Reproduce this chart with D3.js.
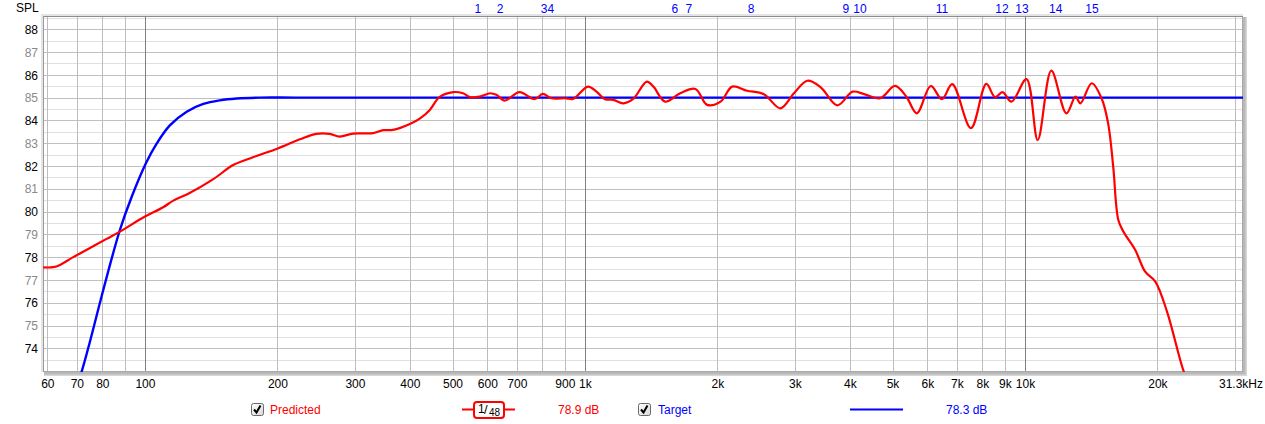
<!DOCTYPE html>
<html><head><meta charset="utf-8">
<script src="https://cdn.jsdelivr.net/npm/d3@7"></script>
<style>
html,body{margin:0;padding:0;background:#fff;}
svg{display:block;font-family:"Liberation Sans",Arial,sans-serif;}
</style></head>
<body>
<svg id="chart" width="1265" height="424"></svg>
<script>
// ---- data ----
const xTickValues = [60,70,80,90,100,200,300,400,500,600,700,800,900,1000,2000,3000,4000,5000,6000,7000,8000,9000,10000,20000,30000];
const xTickLabels = ["60","70","80","","100","200","300","400","500","600","700","","900","1k","2k","3k","4k","5k","6k","7k","8k","9k","10k","20k",""];
const yTickValues = [74,75,76,77,78,79,80,81,82,83,84,85,86,87,88];
const markerFreqs = [571,641,807,837,1601,1723,2384,3919,4217,6477,8868,9846,11750,14200];
const markerLabels = ["1","2","3","4","6","7","8","9","10","11","12","13","14","15"];

const predictedFreq = [58.7,61.9,64.1,68.7,75,81.8,87.7,100,110,116,126,143,159,176,201,225,245,263,277,297,330,348,366,400,422,444,467,502,528,548,576,609,629,657,710,768,802,838,907,940,1016,1062,1110,1160,1222,1287,1382,1431,1521,1646,1783,1895,2033,2161,2337,2550,2782,2985,3202,3434,3749,4058,4312,4689,5065,5376,5677,6107,6476,6834,7537,8169,8551,8894,9319,10080,10690,11480,12420,13030,13370,14180,14930,15450,15870,16300,16740,17800,18760,19780,21030,22960,23500];
const predictedSPL = [77.55,77.56,77.66,78.0,78.4,78.8,79.12,79.78,80.19,80.48,80.8,81.42,82.05,82.38,82.78,83.17,83.41,83.41,83.29,83.42,83.44,83.57,83.58,83.84,84.09,84.46,85.02,85.24,85.19,85.02,85.04,85.19,85.12,84.87,85.24,84.93,85.16,84.97,84.97,84.94,85.48,85.26,84.93,84.9,84.75,84.94,85.7,85.48,84.82,85.19,85.38,84.68,84.82,85.48,85.3,85.15,84.53,85.19,85.74,85.45,84.66,85.26,85.15,84.97,85.51,85.04,84.31,85.51,84.93,85.59,83.66,85.6,85.02,85.24,84.82,85.81,83.14,86.18,84.31,85.04,84.75,85.63,84.97,83.88,81.97,79.63,79.12,78.32,77.36,76.93,75.61,72.98,72.6];

const targetFreq = [68,70,71.8,75,80.4,87.7,93.3,100.5,106.3,113.9,124.4,135.7,148,161.6,182.5,220,400,1000,10000,31300];
const targetSPL = [71.7,72.4,72.98,74.3,76.56,79.19,80.65,82.12,82.98,83.78,84.38,84.72,84.88,84.96,85.0,85.0,85.0,85.0,85.0,85.0];

const legendItems = [
  {name:"Predicted", value:"78.9 dB", color:"#ff0000"},
  {name:"Target", value:"78.3 dB", color:"#0000ff"}
];

// ---- layout ----
const svg = d3.select("#chart");
const L = 43, R = 1243, T = 16, B = 372;
const x = d3.scaleLog().domain([58.65, 31300]).range([L, R]);
const y = d3.scaleLinear().domain([72.96, 88.58]).range([B, T]);

const defs = svg.append("defs");
defs.append("clipPath").attr("id","plotclip").append("rect")
  .attr("x",L).attr("y",T).attr("width",R-L).attr("height",B-T);
const cg = defs.append("linearGradient").attr("id","cb").attr("x1",0).attr("y1",0).attr("x2",1).attr("y2",1);
cg.append("stop").attr("offset","0%").attr("stop-color","#ffffff");
cg.append("stop").attr("offset","100%").attr("stop-color","#d8d8d8");

// frame shadow
svg.append("rect").attr("x",L+1).attr("y",T+1).attr("width",R-L+3).attr("height",B-T+3).attr("fill","#d6d6d6");
svg.append("rect").attr("x",L+1).attr("y",T+1).attr("width",R-L+1.5).attr("height",B-T+1.5).attr("fill","#b8b8b8");
svg.append("rect").attr("x",L-2).attr("y",T-2).attr("width",R-L+2).attr("height",B-T+2).attr("fill","#e4e4e4");
svg.append("rect").attr("x",L).attr("y",T).attr("width",R-L).attr("height",B-T).attr("fill","#ffffff");

// horizontal grid (half dB minor)
const g = svg.append("g");
const halfLines = d3.range(73.5, 88.6, 1);
g.selectAll("line.hmin").data(halfLines).join("line")
  .attr("x1",L).attr("x2",R).attr("y1",d=>Math.round(y(d))+0.5).attr("y2",d=>Math.round(y(d))+0.5)
  .attr("stroke","#e0e0e0").attr("stroke-width",1);
g.selectAll("line.hmaj").data(yTickValues).join("line")
  .attr("x1",L).attr("x2",R).attr("y1",d=>Math.round(y(d))+0.5).attr("y2",d=>Math.round(y(d))+0.5)
  .attr("stroke","#c0c0c0").attr("stroke-width",1);
// vertical grid
g.selectAll("line.v").data(xTickValues).join("line")
  .attr("y1",T).attr("y2",B).attr("x1",d=>Math.round(x(d))+0.5).attr("x2",d=>Math.round(x(d))+0.5)
  .attr("stroke",d=>[100,1000,10000].includes(d)?"#808080":"#bdbdbd").attr("stroke-width",1);

// frame border
svg.append("rect").attr("x",L+0.5).attr("y",T+0.5).attr("width",R-L-1).attr("height",B-T-1)
  .attr("fill","none").attr("stroke","#a8a8a8");
svg.append("line").attr("x1",L).attr("x2",R).attr("y1",T+0.5).attr("y2",T+0.5).attr("stroke","#8c8c8c");
svg.append("line").attr("x1",L+0.5).attr("x2",L+0.5).attr("y1",T).attr("y2",B).attr("stroke","#9a9a9a");

// axes labels
const yAxis = d3.axisLeft(y).tickValues(yTickValues).tickSize(0).tickPadding(0).tickFormat(d3.format("d"));
const ya = svg.append("g").attr("transform",`translate(${L-5},0)`).call(yAxis);
ya.select(".domain").remove();
ya.selectAll("text").attr("font-size",12).attr("font-family","Liberation Sans, Arial, sans-serif")
  .attr("fill",d=>d%2===0?"#000":"#8a8a8a").attr("dy","0.35em");

const xAxis = d3.axisBottom(x).tickValues(xTickValues).tickSize(0).tickPadding(0)
  .tickFormat((d,i)=>xTickLabels[i]);
const xa = svg.append("g").attr("transform",`translate(0,${B+7})`).call(xAxis);
xa.select(".domain").remove();
xa.selectAll("text").attr("font-size",12).attr("font-family","Liberation Sans, Arial, sans-serif").attr("fill","#000").attr("dy","0.71em");
svg.append("text").attr("x",x(31300)-2).attr("y",B+7).attr("dy","0.71em").attr("text-anchor","middle")
  .attr("font-size",12).attr("fill","#000").text("31.3kHz");

svg.append("text").attr("x",16).attr("y",12).attr("font-size",12).attr("fill","#000").text("SPL");

// top markers
svg.selectAll("text.mk").data(markerFreqs).join("text")
  .attr("x",d=>x(d)).attr("y",13).attr("text-anchor","middle")
  .attr("font-size",12).attr("fill","#0000ff").text((d,i)=>markerLabels[i]);

// curves
const line = d3.line().curve(d3.curveCatmullRom.alpha(0.5)).x(d=>x(d[0])).y(d=>y(d[1]));
const plot = svg.append("g").attr("clip-path","url(#plotclip)");
plot.append("path").datum(targetFreq.map((f,i)=>[f,targetSPL[i]]))
  .attr("d",line).attr("fill","none").attr("stroke","#0000ff").attr("stroke-width",2.4);
plot.append("path").datum(predictedFreq.map((f,i)=>[f,predictedSPL[i]]))
  .attr("d",line).attr("fill","none").attr("stroke","#ff0000").attr("stroke-width",2.2);

// legend
function checkbox(cx, cy){
  const gg = svg.append("g").attr("transform",`translate(${cx},${cy})`);
  gg.append("rect").attr("x",0.5).attr("y",0.5).attr("width",12).attr("height",12).attr("rx",2)
    .attr("fill","url(#cb)").attr("stroke","#6a6a6a");
  gg.append("path").attr("d","M3,6.5 L5.5,9.5 L9.5,2.5").attr("fill","none").attr("stroke","#000").attr("stroke-width",2);
}
const ly = 409.5;
checkbox(251, 403);
svg.append("text").attr("x",270).attr("y",ly+4).attr("font-size",12).attr("fill",legendItems[0].color).text(legendItems[0].name);
svg.append("line").attr("x1",462).attr("x2",515).attr("y1",ly).attr("y2",ly).attr("stroke","#ff0000").attr("stroke-width",2);
svg.append("rect").attr("x",474).attr("y",402).attr("width",30).attr("height",16).attr("rx",3)
  .attr("fill","#fff").attr("stroke","#ff0000").attr("stroke-width",2);
svg.append("text").attr("x",478).attr("y",413).attr("font-size",12).attr("fill","#000").text("1");
svg.append("text").attr("x",484).attr("y",414).attr("font-size",13).attr("fill","#000").text("/");
svg.append("text").attr("x",489).attr("y",416).attr("font-size",10).attr("fill","#000").text("48");
svg.append("text").attr("x",558).attr("y",ly+4).attr("font-size",12).attr("fill",legendItems[0].color).text(legendItems[0].value);

checkbox(638, 403);
svg.append("text").attr("x",658).attr("y",ly+4).attr("font-size",12).attr("fill",legendItems[1].color).text(legendItems[1].name);
svg.append("line").attr("x1",850).attr("x2",903).attr("y1",ly).attr("y2",ly).attr("stroke","#0000ff").attr("stroke-width",2);
svg.append("text").attr("x",946).attr("y",ly+4).attr("font-size",12).attr("fill",legendItems[1].color).text(legendItems[1].value);
</script>
</body></html>
